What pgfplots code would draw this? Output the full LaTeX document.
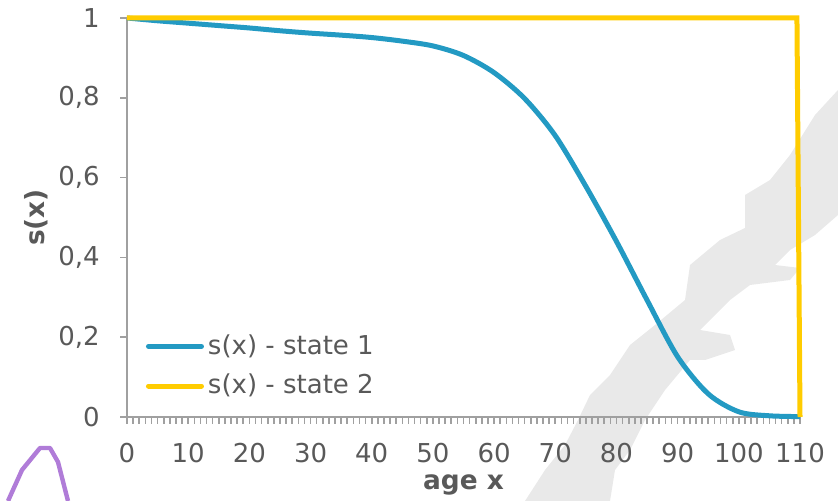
\documentclass[border=0pt]{standalone}
\usepackage{pgfplots}
\pgfplotsset{compat=1.18}
\usepackage{fontspec}
\setmainfont{DejaVu Sans}
\pgfdeclarelayer{background}
\pgfsetlayers{background,main}
\definecolor{sblue}{RGB}{35,154,195}
\definecolor{syellow}{RGB}{255,204,0}
\definecolor{txtgray}{RGB}{89,89,89}
\definecolor{axgray}{RGB}{160,160,160}
\definecolor{wm}{RGB}{233,233,233}
\definecolor{lila}{RGB}{176,124,216}
\begin{document}
\begin{tikzpicture}
\fontsize{13}{15.5}\selectfont
\begin{axis}[
  scale only axis,
  width=336.5pt, height=199.5pt,
  xmin=0, xmax=110, ymin=0, ymax=1,
  axis x line*=bottom, axis y line*=left,
  axis line style={axgray, line width=0.8pt},
  clip=false,
  xtick={0,10,...,110},
  minor x tick num=9,
  ytick={0,0.2,...,1},
  tick align=outside,
  major tick length=3.5pt, minor tick length=3.5pt,
  every tick/.style={axgray, line width=0.8pt},
  xtick style={axgray}, ytick style={axgray},
  ytick pos=left, xtick pos=bottom,
  /pgf/number format/use comma,
  /pgf/number format/assume math mode=true,
  tick label style={font=\fontsize{13}{15.5}\selectfont, text=txtgray},
  yticklabel style={anchor=east, inner sep=0pt, xshift=-10pt},
  xticklabel style={anchor=north, inner sep=0pt, yshift=-9.5pt},
  xlabel={age x}, ylabel={s(x)},
  label style={font=\fontsize{13.2}{15.5}\selectfont\bfseries, text=txtgray},
  xlabel style={at={(axis description cs:0.5,-0.170)}, anchor=center},
  ylabel style={at={(axis description cs:-0.135,0.5)}, anchor=center},
  legend style={draw=none, fill=none, at={(axis cs:3.1,0.038)}, anchor=south west,
    font=\fontsize{13}{15.5}\selectfont, text=txtgray, row sep=4pt,
    inner sep=0pt, outer sep=0pt},
  legend cell align=left,
  legend image code/.code={\draw[#1, line cap=round] (0pt,0pt) -- (26.5pt,0pt);},
]
\coordinate (O) at (axis cs:0,0);
\addplot[sblue, line width=2.5pt, smooth] coordinates {
(0,1) (5,0.993) (10,0.987) (15,0.981) (20,0.975) (25,0.968) (30,0.962)
(35,0.957) (40,0.951) (45,0.942) (50,0.930) (55,0.906) (60,0.863)
(65,0.798) (70,0.705) (75,0.578) (80,0.440) (85,0.293) (90,0.151)
(95,0.058) (100,0.013) (105,0.003) (110,0.001)};
\addlegendentry{s(x) - state 1}
\addplot[syellow, line width=2.5pt] coordinates {(0,1) (109.5,1) (110,0)};
\addlegendentry{s(x) - state 2}
\end{axis}
\begin{pgfonlayer}{background}
\begin{scope}[shift={(O)}, xshift=-63.5pt, yshift=208.5pt, x=0.5pt, y=-0.5pt]
\fill[wm] (525,501) -- (545,470) -- (565,445) -- (578,420) -- (590,395)
 -- (610,375) -- (630,345) -- (655,325) -- (685,300) -- (690,265)
 -- (720,240) -- (745,228) -- (745,195) -- (770,180) -- (790,155)
 -- (815,115) -- (838,90) -- (838,215) -- (815,235) -- (790,250)
 -- (775,265) -- (800,268) -- (790,280) -- (750,285) -- (730,300)
 -- (700,330) -- (730,335) -- (735,350) -- (705,360) -- (690,360)
 -- (665,390) -- (645,420) -- (630,450) -- (615,470) -- (610,501) -- cycle;
\draw[lila, line width=2.2pt, line join=round] (8,501) -- (22,470) -- (40,448) -- (50,448) -- (58,462) -- (68,501);
\end{scope}
\end{pgfonlayer}
\pgfresetboundingbox
\path[use as bounding box, shift={(O)}, xshift=-63.5pt, yshift=208.5pt, x=0.5pt, y=-0.5pt] (0,0) rectangle (838,501);
\end{tikzpicture}
\end{document}
